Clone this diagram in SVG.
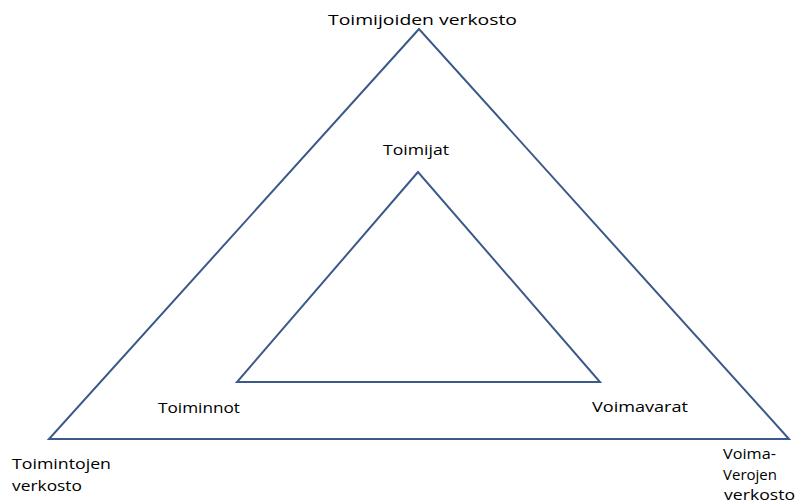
<svg xmlns="http://www.w3.org/2000/svg" width="795" height="504" viewBox="0 0 795 504">
<style>
.tri{fill:none;stroke:#3b5a8a;stroke-width:2;stroke-linejoin:miter}
text{font-family:"Open Sans","Noto Sans",sans-serif;font-size:15px;fill:#000}
</style>
<rect width="795" height="504" fill="#fff"/>
<g id="connectors">
<polygon id="outer" class="tri" points="419,29 49,439 789,439"/>
<polygon id="inner" class="tri" points="418,172 237,382 600,382"/>
</g>
<g id="n-toimijoiden"><text x="328" y="25" textLength="189" lengthAdjust="spacingAndGlyphs">Toimijoiden verkosto</text></g>
<g id="n-toimijat"><text x="383" y="155" textLength="66" lengthAdjust="spacingAndGlyphs">Toimijat</text></g>
<g id="n-toiminnot"><text x="158" y="413" textLength="82" lengthAdjust="spacingAndGlyphs">Toiminnot</text></g>
<g id="n-voimavarat"><text x="592" y="412" textLength="96" lengthAdjust="spacingAndGlyphs">Voimavarat</text></g>
<g id="n-toimintojen"><text x="12" y="469" textLength="99" lengthAdjust="spacingAndGlyphs">Toimintojen</text><text x="12" y="491" textLength="70" lengthAdjust="spacingAndGlyphs">verkosto</text></g>
<g id="n-voimaverojen"><text x="723" y="459" textLength="53" lengthAdjust="spacingAndGlyphs">Voima-</text><text x="723" y="480" textLength="54" lengthAdjust="spacingAndGlyphs">Verojen</text><text x="724" y="500" textLength="71" lengthAdjust="spacingAndGlyphs">verkosto</text></g>
</svg>
